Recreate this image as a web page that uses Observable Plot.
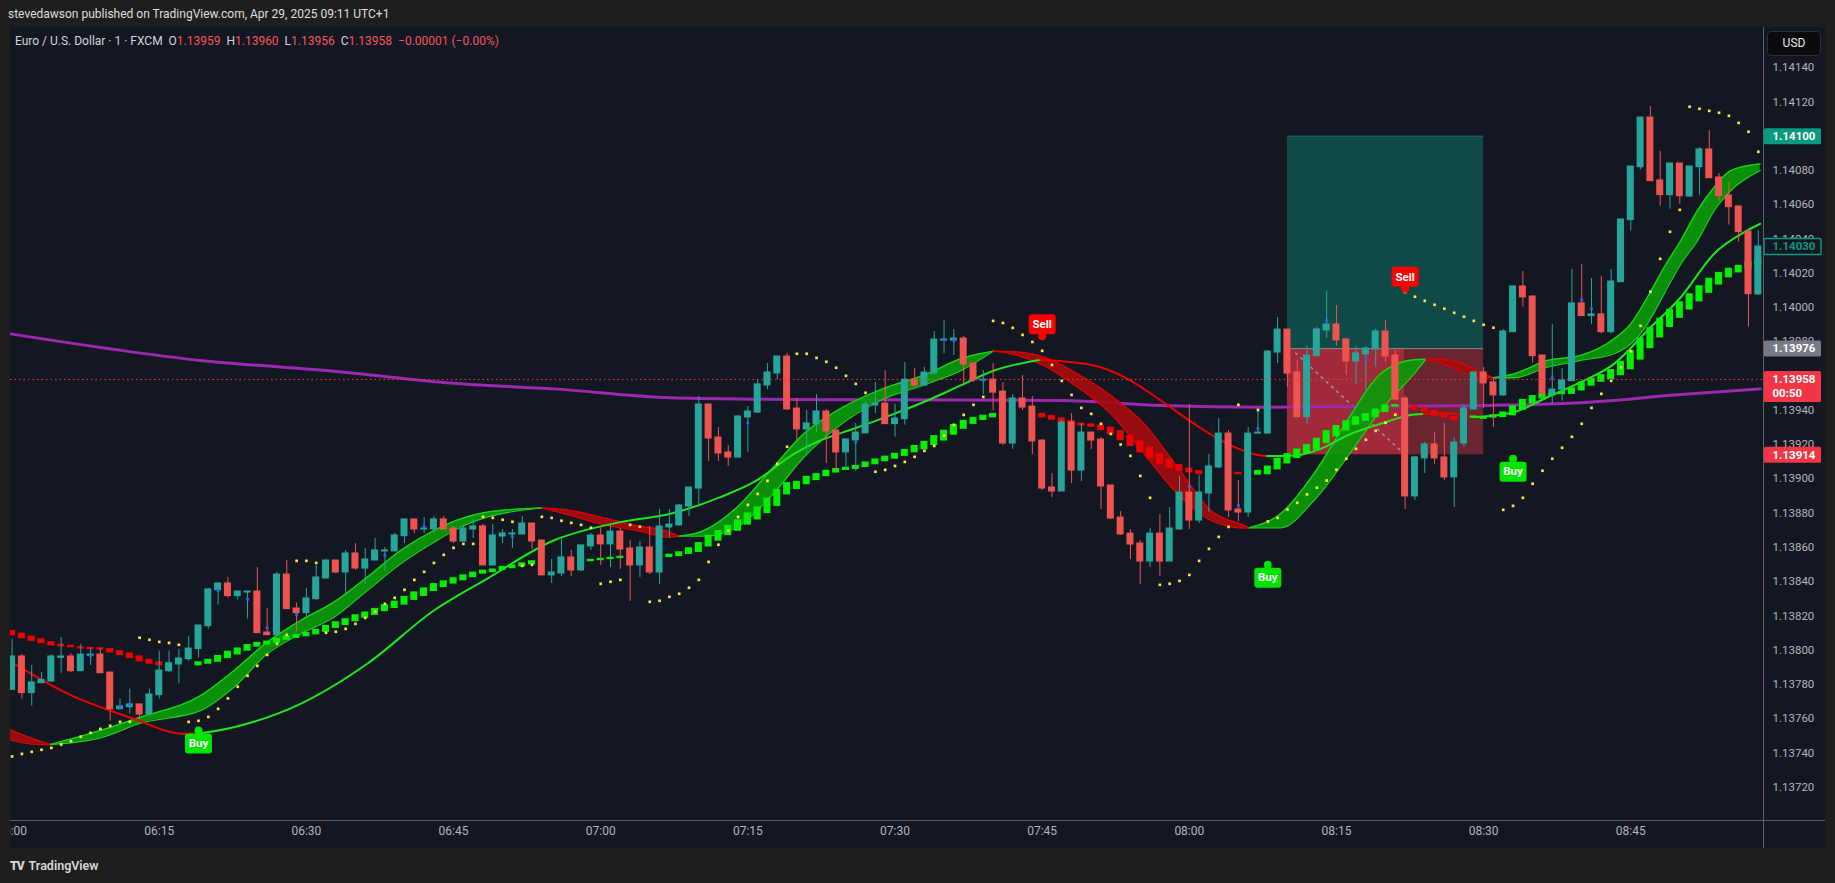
<!DOCTYPE html>
<html><head><meta charset="utf-8">
<script src="https://cdn.jsdelivr.net/npm/d3@7"></script>
<script src="https://cdn.jsdelivr.net/npm/@observablehq/plot@0.6"></script>
<style>
html,body{margin:0;padding:0;background:#1e1e1e;width:1835px;height:883px;overflow:hidden;font-family:Roboto,"Liberation Sans",sans-serif;}
#top{position:absolute;left:8px;top:7px;color:#dedede;font-size:12px;white-space:pre;}
#panel{position:absolute;left:10px;top:27px;width:1815px;height:821px;background:#131722;overflow:hidden;}
#panel svg{position:absolute;left:0;top:0;}
#legend{position:absolute;left:5px;top:7px;color:#d1d4dc;font-size:12px;white-space:pre;}
#legend .v{color:#f7525f}
#usd{position:absolute;left:1757px;top:4px;width:52px;height:23px;background:#0b0b0d;border:1px solid #2a2e39;border-radius:4px;color:#e6e6e6;font-size:12px;line-height:23px;text-align:center;}
#vsep{position:absolute;left:1753px;top:0;width:1px;height:821px;background:#5d606b;}
#hsep{position:absolute;left:0;top:793px;width:1815px;height:1px;background:#5d606b;}
#brand{position:absolute;left:10px;top:858px;color:#d8d8d8;font-size:12.5px;font-weight:600;}
#brand b{font-size:12px;letter-spacing:-1px;margin-right:5px;}
</style></head>
<body>
<div id="top">stevedawson published on TradingView.com, Apr 29, 2025 09:11 UTC+1</div>
<div id="panel">
  <div id="vsep"></div><div id="hsep"></div>
  <div id="legend">Euro / U.S. Dollar · 1 · FXCM  O<span class="v">1.13959</span>  H<span class="v">1.13960</span>  L<span class="v">1.13956</span>  C<span class="v">1.13958</span>  <span class="v">−0.00001 (−0.00%)</span></div>
  <div id="usd">USD</div>
</div>
<div id="brand"><b>TV</b>TradingView</div>
<script>
// ---- candle data (1-minute bars, index = minutes after 06:00) ----
const opens = [1.137768,1.137963,1.137749,1.137807,1.137817,1.137955,1.137963,1.137877,1.137967,1.137974,
1.137869,1.137655,1.137667,1.137683,1.137624,1.137737,1.137877,1.137916,1.137947,1.138006,
1.138140,1.138350,1.138389,1.138315,1.138336,1.138342,1.138103,1.138087,1.138441,1.138243,
1.138216,1.138297,1.138418,1.138523,1.138453,1.138564,1.138476,1.138523,1.138576,1.138576,
1.138665,1.138763,1.138704,1.138704,1.138763,1.138710,1.138634,1.138704,1.138722,1.138494,
1.138663,1.138675,1.138675,1.138739,1.138640,1.138436,1.138447,1.138541,1.138465,1.138605,
1.138669,1.138617,1.138692,1.138593,1.138494,1.138599,1.138453,1.138716,1.138728,1.138838,
1.138943,1.139434,1.139241,1.139154,1.139124,1.139358,1.139387,1.139545,1.139615,1.139714,
1.139410,1.139288,1.139317,1.139393,1.139282,1.139154,1.139224,1.139265,1.139428,1.139439,
1.139319,1.139348,1.139579,1.139544,1.139614,1.139807,1.139807,1.139819,1.139673,1.139574,
1.139579,1.139509,1.139206,1.139469,1.139422,1.139223,1.138949,1.138926,1.139328,1.139048,
1.139270,1.139229,1.138961,1.138774,1.138680,1.138622,1.138517,1.138680,1.138517,1.138704,
1.138920,1.138756,1.138914,1.139066,1.139264,1.138821,1.138803,1.139264,1.139264,1.139737,
1.139871,1.139621,1.139360,1.139716,1.139866,1.139901,1.139814,1.139685,1.139726,1.139755,
1.139860,1.139720,1.139469,1.138897,1.139119,1.139201,1.139125,1.139008,1.139206,1.139405,
1.139621,1.139563,1.139487,1.139856,1.140123,1.140064,1.139720,1.139496,1.139520,1.139570,
1.140024,1.139950,1.139960,1.139856,1.140148,1.140510,1.140819,1.141109,1.140742,1.140656,
1.140841,1.140648,1.140819,1.140923,1.140759,1.140654,1.140590,1.140444,1.140076];
const highs = [1.138060,1.137974,1.137910,1.137869,1.137974,1.138074,1.137978,1.138033,1.138013,1.138007,
1.137869,1.137714,1.137772,1.137683,1.137772,1.137994,1.137994,1.138005,1.138080,1.138144,
1.138360,1.138389,1.138424,1.138342,1.138342,1.138482,1.138243,1.138453,1.138523,1.138274,
1.138360,1.138494,1.138531,1.138523,1.138582,1.138622,1.138593,1.138652,1.138599,1.138681,
1.138763,1.138763,1.138774,1.138780,1.138780,1.138722,1.138728,1.138763,1.138733,1.138733,
1.138704,1.138704,1.138780,1.138739,1.138640,1.138529,1.138652,1.138582,1.138611,1.138681,
1.138722,1.138733,1.138710,1.138640,1.138634,1.138722,1.138821,1.138821,1.138850,1.138949,
1.139481,1.139434,1.139300,1.139194,1.139370,1.139422,1.139574,1.139673,1.139714,1.139732,
1.139469,1.139399,1.139492,1.139405,1.139282,1.139230,1.139323,1.139451,1.139562,1.139632,
1.139434,1.139679,1.139644,1.139650,1.139860,1.139924,1.139871,1.139831,1.139673,1.139632,
1.139673,1.139562,1.139492,1.139603,1.139480,1.139229,1.139031,1.139340,1.139381,1.139323,
1.139270,1.139241,1.138961,1.138809,1.138704,1.138640,1.138710,1.138791,1.138832,1.139013,
1.139434,1.139019,1.139142,1.139352,1.139282,1.138990,1.139299,1.139404,1.139749,1.139941,
1.139871,1.139691,1.139773,1.139884,1.140094,1.140012,1.139814,1.139773,1.139773,1.139872,
1.139924,1.139749,1.139481,1.139130,1.139212,1.139271,1.139323,1.139241,1.139434,1.139621,
1.139650,1.139592,1.139872,1.140123,1.140210,1.140070,1.139720,1.139901,1.139644,1.140222,
1.140251,1.140169,1.140181,1.140222,1.140514,1.140823,1.141109,1.141174,1.140911,1.140841,
1.140841,1.140823,1.140934,1.141033,1.140782,1.140730,1.140590,1.140444,1.140449];
const lows = [1.137764,1.137714,1.137673,1.137807,1.137811,1.137865,1.137869,1.137877,1.137910,1.137865,
1.137585,1.137655,1.137628,1.137593,1.137624,1.137714,1.137869,1.137803,1.137935,1.137955,
1.138122,1.138263,1.138303,1.138292,1.138181,1.138099,1.138087,1.138087,1.138239,1.138107,
1.138192,1.138292,1.138418,1.138445,1.138317,1.138465,1.138383,1.138523,1.138459,1.138576,
1.138622,1.138681,1.138681,1.138681,1.138704,1.138622,1.138634,1.138652,1.138494,1.138494,
1.138622,1.138593,1.138675,1.138587,1.138436,1.138389,1.138430,1.138430,1.138459,1.138582,
1.138494,1.138482,1.138471,1.138284,1.138424,1.138441,1.138383,1.138652,1.138722,1.138780,
1.138850,1.139101,1.139101,1.139072,1.139124,1.139154,1.139381,1.139521,1.139580,1.139399,
1.139224,1.139142,1.139270,1.139089,1.139049,1.139049,1.139043,1.139265,1.139381,1.139319,
1.139243,1.139313,1.139533,1.139544,1.139614,1.139731,1.139719,1.139544,1.139562,1.139492,
1.139398,1.139194,1.139171,1.139398,1.139142,1.138931,1.138891,1.138926,1.138972,1.138984,
1.139171,1.138821,1.138762,1.138669,1.138529,1.138383,1.138482,1.138430,1.138517,1.138704,
1.138704,1.138739,1.138803,1.139060,1.138774,1.138750,1.138774,1.139264,1.139264,1.139673,
1.139533,1.139360,1.139313,1.139716,1.139819,1.139773,1.139603,1.139551,1.139510,1.139650,
1.139679,1.139457,1.138821,1.138874,1.139031,1.139084,1.138990,1.138833,1.139183,1.139399,
1.139411,1.139300,1.139481,1.139856,1.140002,1.139675,1.139467,1.139438,1.139453,1.139570,
1.139950,1.139901,1.139846,1.139846,1.140148,1.140446,1.140804,1.140734,1.140592,1.140574,
1.140603,1.140644,1.140656,1.140755,1.140621,1.140481,1.140382,1.139885,1.140070];
const closes = [1.137963,1.137749,1.137811,1.137826,1.137963,1.137963,1.137877,1.137974,1.137974,1.137865,
1.137655,1.137671,1.137683,1.137624,1.137741,1.137881,1.137924,1.137951,1.138009,1.138144,
1.138354,1.138389,1.138315,1.138342,1.138342,1.138099,1.138087,1.138441,1.138239,1.138216,
1.138301,1.138424,1.138523,1.138453,1.138564,1.138476,1.138529,1.138582,1.138582,1.138669,
1.138763,1.138704,1.138710,1.138763,1.138704,1.138634,1.138710,1.138722,1.138494,1.138669,
1.138681,1.138681,1.138739,1.138634,1.138436,1.138453,1.138541,1.138465,1.138611,1.138669,
1.138617,1.138692,1.138587,1.138494,1.138599,1.138453,1.138722,1.138733,1.138844,1.138949,
1.139434,1.139235,1.139148,1.139124,1.139364,1.139393,1.139551,1.139621,1.139714,1.139405,
1.139288,1.139323,1.139393,1.139276,1.139154,1.139230,1.139270,1.139434,1.139440,1.139319,
1.139352,1.139579,1.139544,1.139620,1.139813,1.139813,1.139819,1.139667,1.139574,1.139579,
1.139503,1.139206,1.139469,1.139416,1.139218,1.138943,1.138926,1.139328,1.139048,1.139270,
1.139223,1.138955,1.138768,1.138675,1.138616,1.138517,1.138680,1.138517,1.138710,1.138920,
1.138756,1.138920,1.139072,1.139264,1.138815,1.138803,1.139264,1.139270,1.139743,1.139871,
1.139614,1.139360,1.139720,1.139872,1.139901,1.139808,1.139685,1.139732,1.139761,1.139860,
1.139714,1.139463,1.138897,1.139125,1.139201,1.139119,1.139008,1.139212,1.139411,1.139621,
1.139557,1.139487,1.139860,1.140123,1.140059,1.139716,1.139500,1.139521,1.139574,1.140024,
1.139950,1.139960,1.139856,1.140152,1.140514,1.140823,1.141109,1.140738,1.140656,1.140841,
1.140650,1.140823,1.140923,1.140755,1.140650,1.140586,1.140440,1.140078,1.140356];

// ---- parabolic SAR dots (one per bar, null = not drawn) ----
const sar = [1.137379,1.137394,1.137406,1.137418,1.137429,1.137449,1.137468,1.137494,1.137517,1.137540,
1.137558,1.137581,1.137581,1.138072,1.138060,1.138048,1.138042,1.138031,1.137581,1.137587,
1.137610,1.137657,1.137718,1.137786,1.137850,1.137908,1.137972,1.138037,1.138089,1.138521,
1.138521,1.138509,1.138101,1.138107,1.138124,1.138153,1.138188,1.138225,1.138270,1.138305,
1.138352,1.138410,1.138457,1.138509,1.138556,1.138597,1.138620,1.138620,1.138778,1.138772,
1.138761,1.138749,1.138492,1.138498,1.138778,1.138772,1.138755,1.138743,1.138731,1.138714,
1.138387,1.138399,1.138410,1.138731,1.138720,1.138282,1.138288,1.138311,1.138329,1.138364,
1.138410,1.138515,1.138615,1.138698,1.138778,1.138848,1.138912,1.138988,1.139087,1.139187,
1.139730,1.139730,1.139706,1.139683,1.139648,1.139601,1.139554,1.139502,1.139041,1.139052,
1.139075,1.139099,1.139128,1.139163,1.139192,1.139252,1.139315,1.139373,1.139432,1.139478,
1.139922,1.139910,1.139881,1.139840,1.139799,1.139747,1.139665,1.139572,1.139490,1.139414,
1.139379,1.139321,1.139262,1.139200,1.139134,1.139017,1.138889,1.138381,1.138387,1.138404,
1.138439,1.138521,1.138591,1.138661,1.138719,1.139432,null,1.139402,1.138751,1.138772,
1.138821,1.138860,1.138909,1.138948,1.138990,1.139053,1.139117,1.139175,1.139228,1.139280,
1.139327,1.139374,1.140090,1.140063,1.140039,1.140016,1.139993,1.139969,1.139946,1.139922,
1.139899,1.139882,1.138819,1.138842,1.138889,1.138971,1.139047,1.139117,1.139181,1.139245,
1.139321,1.139414,1.139496,1.139572,1.139652,1.139745,1.139893,1.140092,1.140284,1.140442,
1.140570,1.141172,1.141160,1.141148,1.141137,1.141119,1.141078,1.141026,1.140909];

// ---- trend squares (value and direction per bar; null = not drawn) ----
const sqValue = [1.138099,1.138083,1.138066,1.138052,1.138037,1.138027,1.138021,1.138013,1.138009,1.138007,
1.137996,1.137982,1.137967,1.137949,1.137932,1.137920,null,null,null,1.137920,
1.137932,1.137949,1.137972,1.137992,1.138013,1.138031,1.138041,1.138054,1.138070,1.138079,
1.138091,1.138105,1.138124,1.138146,1.138163,1.138186,1.138204,1.138223,1.138245,1.138264,
1.138288,1.138315,1.138338,1.138365,1.138385,1.138404,1.138422,1.138439,1.138455,1.138463,
1.138476,1.138486,1.138498,1.138510,null,null,null,null,null,1.138523,
1.138529,1.138535,1.138541,null,null,null,null,1.138550,1.138560,1.138578,
1.138599,1.138636,1.138667,1.138698,1.138727,1.138765,1.138798,1.138842,1.138889,1.138942,
1.138961,1.138990,1.139010,1.139031,1.139047,1.139058,1.139066,1.139082,1.139099,1.139116,
1.139132,1.139151,1.139173,1.139194,1.139223,1.139252,1.139286,1.139315,1.139338,1.139356,
1.139369,null,null,null,null,1.139369,1.139356,1.139342,1.139328,1.139317,
1.139311,1.139297,1.139280,1.139252,1.139221,1.139186,1.139151,1.139116,1.139087,1.139064,
1.139048,1.139036,null,null,null,1.139031,null,1.139035,1.139049,1.139086,
1.139117,1.139146,1.139173,1.139202,1.139243,1.139278,1.139309,1.139337,1.139358,1.139382,
1.139409,1.139426,1.139424,1.139413,1.139401,1.139383,1.139368,1.139352,1.139345,1.139360,
1.139354,1.139364,1.139374,1.139397,1.139432,1.139461,1.139481,1.139494,1.139500,1.139512,
1.139539,1.139564,1.139586,1.139609,1.139644,1.139693,1.139757,1.139821,1.139880,1.139936,
1.139985,1.140033,1.140080,1.140127,1.140168,1.140201,1.140224,1.140245,1.140265];
const sqDir = [-1,-1,-1,-1,-1,-1,-1,-1,-1,-1,
-1,-1,-1,-1,-1,-1,0,0,0,1,
1,1,1,1,1,1,1,1,1,1,
1,1,1,1,1,1,1,1,1,1,
1,1,1,1,1,1,1,1,1,1,
1,1,1,1,0,0,0,0,0,1,
1,1,1,0,0,0,0,1,1,1,
1,1,1,1,1,1,1,1,1,1,
1,1,1,1,1,1,1,1,1,1,
1,1,1,1,1,1,1,1,1,1,
1,0,0,0,0,-1,-1,-1,-1,-1,
-1,-1,-1,-1,-1,-1,-1,-1,-1,-1,
-1,-1,0,0,0,-1,0,1,1,1,
1,1,1,1,1,1,1,1,1,1,
1,1,-1,-1,-1,-1,-1,-1,-1,1,
1,1,1,1,1,1,1,1,1,1,
1,1,1,1,1,1,1,1,1,1,
1,1,1,1,1,1,1,1,1];

// ---- fast ribbon (two averages, sampled) ----
const ribbonM = [-0.16,1.88,3.92,9.01,13.09,19.2,22.6,26.0,29.4,32.8,36.2,39.6,43.0,45.7,48.4,54.0,
56.9,60.3,63.7,67.1,68.0,70.5,73.9,77.3,80.7,84.1,88.5,93.3,96.7,100.0,
101.8,105.2,108.6,112.0,115.4,118.8,122.2,125.6,126.1,129.3,132.7,136.1,139.5,142.9,144.1,
146.3,149.7,151.0,153.1,156.5,159.9,163.3,165.0,166.7,168.4,170.1,171.8,173.5,175.2,178.2];
const ribbonFast = [1.137476,1.137453,1.137449,1.137531,1.137609,1.137734,1.137880,1.138046,1.138173,1.138280,1.138426,1.138581,1.138698,1.138766,1.138805,1.138830,
1.138786,1.138733,1.138698,1.138659,1.138665,1.138698,1.138834,1.139048,1.139263,1.139399,1.139520,1.139613,1.139701,1.139745,
1.139730,1.139661,1.139535,1.139379,1.139146,1.138912,1.138757,1.138712,1.138714,1.138796,1.139029,1.139340,1.139613,1.139695,1.139698,
1.139661,1.139593,1.139590,1.139613,1.139691,1.139720,1.139817,1.139905,1.140060,1.140235,1.140391,1.140566,1.140702,1.140800,1.140839];
const ribbonSlow = [1.137535,1.137488,1.137449,1.137488,1.137573,1.137647,1.137783,1.137978,1.138095,1.138192,1.138348,1.138504,1.138630,1.138717,1.138776,1.138830,
1.138815,1.138772,1.138727,1.138688,1.138665,1.138665,1.138717,1.138893,1.139126,1.139301,1.139457,1.139555,1.139632,1.139745,
1.139743,1.139710,1.139613,1.139486,1.139321,1.139068,1.138815,1.138727,1.138714,1.138714,1.138873,1.139126,1.139399,1.139613,1.139698,
1.139695,1.139622,1.139590,1.139590,1.139652,1.139691,1.139730,1.139788,1.139905,1.140080,1.140255,1.140391,1.140566,1.140683,1.140800];

// ---- slow trend line (sampled) ----
const lineM = [0.14,5.6,12.4,17.5,18.9,22.6,29.4,36.2,43.0,48.4,55.2,62.0,67.1,72.2,75.6,79.7,82.4,85.8,89.9,93.3,96.7,100.1,104.8,
110.3,113.7,117.1,120.5,123.9,127.3,127.9,130.7,133.4,136.1,139.5,142.9,143.9,146.3,149.0,153.1,156.5,159.9,163.3,166.7,170.1,173.5,176.9,178.2];
const lineV = [1.137922,1.137747,1.137599,1.137511,1.137511,1.137550,1.137686,1.137920,1.138231,1.138416,1.138640,1.138747,1.138796,1.138893,1.138980,1.139146,1.139224,1.139292,1.139379,1.139457,1.139545,1.139632,1.139695,
1.139661,1.139584,1.139457,1.139321,1.139204,1.139136,1.139133,1.139136,1.139175,1.139253,1.139321,1.139375,1.139379,1.139383,1.139360,1.139389,1.139476,1.139564,1.139671,1.139866,1.140060,1.140314,1.140450,1.140489];
const lineTrend = ["down","down","down","down","down","up","up","up","up","up","up","up","up","up","up","up","up","up","up","up","up","up","up",
"down","down","down","down","down","down","down","up","up","up","up","up","up","down","down","up","up","up","up","up","up","up","up","up"];

// ---- long moving average (purple, sampled) ----
const maM = [-0.16,19.2,32.8,45.7,55.2,67.1,75.6,88.5,106.9,117.1,127.3,133.4,149.7,159.9,170.1,178.2];
const maV = [1.139846,1.139691,1.139628,1.139555,1.139525,1.139473,1.139465,1.139461,1.139457,1.139428,1.139418,1.139420,1.139428,1.139444,1.139492,1.139525];

// ---- small blue pivot marks ----
const blueM = [8,11,12,21,24,26,29,38,42,51,75,86,95,96,99,120,125,127,134,138,157,160,161];
const blueP = [1.137967,1.137671,1.137683,1.138348,1.138297,1.138130,1.138208,1.138554,1.138720,1.138663,1.139327,1.139214,1.139813,1.139807,1.139574,1.138955,1.138844,1.139293,1.139924,1.139697,1.139589,1.140045,1.139992];

// ---- Buy / Sell signals ----
const signalM = [19,105,128,142,153];
const signalP = [1.137531,1.139832,1.138498,1.140109,1.139117];
const signalType = ["Buy","Sell","Buy","Sell","Buy"];

// ---- long position drawing ----
const posStartM = 130, posHitM = 142, posEndM = 150;
const entryPrice = 1.13976, targetPrice = 1.14100, stopPrice = 1.13914;
const currentPrice = 1.13958;
const countdown = "00:50";

// ---- axes ----
const priceTicks = [1.13720,1.13740,1.13760,1.13780,1.13800,1.13820,1.13840,1.13860,1.13880,1.13900,1.13920,1.13940,1.13980,1.14000,1.14020,1.14040,1.14060,1.14080,1.14120,1.14140];
const timeTicks = [0,15,30,45,60,75,90,105,120,135,150,165];
const timeLabels = ["06:00","06:15","06:30","06:45","07:00","07:15","07:30","07:45","08:00","08:15","08:30","08:45"];
const tagPrices = [1.14100, 1.140356, 1.13976, 1.13914];
const tagTexts = ["1.14100","1.14030","1.13976","1.13914"];
const tagFill = ["#089981","#131722","#787b86","#f23645"];
const tagStroke = ["none","#089981","none","none"];
const tagColor = ["#ffffff","#089981","#ffffff","#ffffff"];

// ================= build =================
const UP = "#26a69a", DN = "#ef5350";
const candles = opens.map((o,i)=>({m:i,o,h:highs[i],l:lows[i],c:closes[i]}));
const cColor = d => d.c >= d.o ? UP : DN;

const sarRows = sar.map((v,i)=>({m:i,v})).filter(d=>d.v!=null);

const sqRows = [];
sqValue.forEach((v,i)=>{
  if (v==null) return;
  const p = sqValue[i-1], n = sqValue[i+1];
  let s;
  if (p!=null && n!=null) s = Math.abs(n-p)/2;
  else if (p!=null) s = Math.abs(v-p);
  else if (n!=null) s = Math.abs(n-v);
  else s = 0;
  const half = Math.max(s, 0.000007);
  sqRows.push({m:i, lo:v-half, hi:v+half, dir:sqDir[i]});
});

// ribbon segments by sign of fast - slow (crossing points shared)
const segs = []; let cur = null;
ribbonM.forEach((m,i)=>{
  const p = {m, f:ribbonFast[i], s:ribbonSlow[i]};
  const d = p.f - p.s, sign = d>0?1:d<0?-1:0;
  if (sign===0){ if(cur) cur.pts.push(p); cur={sign:0,pts:[p]}; segs.push(cur); }
  else {
    if(!cur){cur={sign,pts:[]};segs.push(cur);}
    if(cur.sign===0) cur.sign=sign;
    else if(cur.sign!==sign){const last=cur.pts[cur.pts.length-1]; cur={sign,pts:[last]}; segs.push(cur);}
    cur.pts.push(p);
  }
});
const ribRows = segs.filter(s=>s.pts.length>1).flatMap((s,k)=>s.pts.map(p=>({...p,seg:k,sign:s.sign})));

// trend line segments
const lsegs = []; let lc = null;
lineM.forEach((m,i)=>{
  const p = {m, v:lineV[i]}, t = lineTrend[i];
  if(!lc){lc={t,pts:[p]};lsegs.push(lc);return;}
  if(lc.t!==t){const last=lc.pts[lc.pts.length-1]; lc={t,pts:[last]}; lsegs.push(lc);}
  lc.pts.push(p);
});
const lineRows = lsegs.flatMap((s,k)=>s.pts.map(p=>({...p,seg:k,t:s.t})));

const maRows = maM.map((m,i)=>({m,v:maV[i]}));
const blueRows = blueM.map((m,i)=>({m,v:blueP[i]}));
const sigRows = signalM.map((m,i)=>({m,v:signalP[i],t:signalType[i]}));
const buyRows = sigRows.filter(d=>d.t==="Buy");
const sellRows = sigRows.filter(d=>d.t==="Sell");

function roundRect(w,h,oy,r){
  return {draw(ctx){
    const x0=-w/2, y0=-h/2+oy, x1=x0+w, y1=y0+h;
    if(!r){ctx.moveTo(x0,y0);ctx.lineTo(x1,y0);ctx.lineTo(x1,y1);ctx.lineTo(x0,y1);ctx.closePath();return;}
    ctx.moveTo(x0+r,y0);ctx.lineTo(x1-r,y0);ctx.arcTo(x1,y0,x1,y0+r,r);ctx.lineTo(x1,y1-r);ctx.arcTo(x1,y1,x1-r,y1,r);
    ctx.lineTo(x0+r,y1);ctx.arcTo(x0,y1,x0,y1-r,r);ctx.lineTo(x0,y0+r);ctx.arcTo(x0,y0,x0+r,y0,r);ctx.closePath();
  }};
}
const tagSym = roundRect(57,16,0,1.5);
const curTagSym = roundRect(57,31,7,1.5);
const buySym = roundRect(27,20,13,3);
const sellSym = roundRect(27,20,-12,3);

const tagRows = tagPrices.map((p,i)=>({p,t:tagTexts[i],fill:tagFill[i],stroke:tagStroke[i],color:tagColor[i]}));

const chart = Plot.plot({
  width: 1815, height: 821,
  marginLeft: 0, marginRight: 62, marginTop: 0, marginBottom: 28,
  x: {type:"linear", domain:[-0.163, 178.53], axis:null},
  y: {type:"linear", domain:[1.1370052, 1.1416347], axis:null},
  style: {background:"transparent", color:"#b2b5be", fontFamily:"Roboto, 'Liberation Sans', sans-serif", fontSize:"12px"},
  marks: [
    // position drawing
    Plot.rect([0], {x1:()=>posStartM, x2:()=>posEndM, y1:()=>entryPrice, y2:()=>targetPrice, fill:"#0f4a48"}),
    Plot.ruleY([targetPrice], {x1:posStartM, x2:posEndM, stroke:"#17685f", strokeWidth:1}),
    Plot.rect([0], {x1:()=>posStartM, x2:()=>posHitM, y1:()=>stopPrice, y2:()=>entryPrice, fill:"#a02a3a"}),
    Plot.rect([0], {x1:()=>posHitM, x2:()=>posEndM, y1:()=>stopPrice, y2:()=>entryPrice, fill:"#6b2530"}),
    Plot.ruleY([entryPrice], {x1:posStartM, x2:posEndM, stroke:"#8a8d96", strokeWidth:1}),
    Plot.link([0], {x1:()=>posStartM+0.8, y1:()=>entryPrice-0.000024, x2:()=>posHitM, y2:()=>stopPrice, stroke:"#9598a1", strokeDasharray:"3,4", strokeWidth:1.5}),
    // long MA
    Plot.line(maRows, {x:"m", y:"v", stroke:"#9c27b0", strokeWidth:3, curve:"monotone-x", clip:true}),
    // ribbon
    Plot.areaY(ribRows, {x:"m", y1:d=>Math.min(d.f,d.s), y2:d=>Math.max(d.f,d.s), z:"seg", fill:d=>d.sign>0?"#0a9a0a":"#a30c0e", fillOpacity:0.92, curve:"monotone-x", clip:true}),
    Plot.line(ribRows, {x:"m", y:"f", z:"seg", stroke:d=>d.sign>0?"#19d419":"#e00000", strokeWidth:1.3, curve:"monotone-x", clip:true}),
    Plot.line(ribRows, {x:"m", y:"s", z:"seg", stroke:d=>d.sign>0?"#19d419":"#e00000", strokeWidth:1.3, curve:"monotone-x", clip:true}),
    // trend line
    Plot.line(lineRows, {x:"m", y:"v", z:"seg", stroke:d=>d.t==="up"?"#1ee61e":"#ee0000", strokeWidth:2, curve:"monotone-x", clip:true}),
    // squares
    Plot.rect(sqRows, {x1:d=>d.m-0.36, x2:d=>d.m+0.36, y1:"lo", y2:"hi", fill:d=>d.dir>0?"#00f000":"#f00000", clip:true}),
    // candles
    Plot.ruleX(candles, {x:"m", y1:"l", y2:"h", stroke:cColor, strokeWidth:1, clip:true}),
    Plot.rect(candles, {x1:d=>d.m-0.357, x2:d=>d.m+0.357, y1:"o", y2:"c", fill:cColor, insetTop:-0.5, insetBottom:-0.5, clip:true}),
    // blue marks
    Plot.dot(blueRows, {x:"m", y:"v", symbol:"square", r:1.6, fill:"#2962ff"}),
    // SAR
    Plot.dot(sarRows, {x:"m", y:"v", symbol:"square", r:1.5, fill:"#ffe73b", clip:true}),
    // current price line
    Plot.ruleY([currentPrice], {stroke:"#f23645", strokeDasharray:"1.5,3", strokeWidth:1}),
    // signals
    Plot.dot(buyRows, {x:"m", y:"v", r:4, fill:"#00e600"}),
    Plot.dot(sellRows, {x:"m", y:"v", r:4, fill:"#ff0000"}),
    Plot.dot(buyRows, {x:"m", y:"v", symbol:buySym, fill:"#00e600"}),
    Plot.dot(sellRows, {x:"m", y:"v", symbol:sellSym, fill:"#ff0000"}),
    Plot.text(buyRows, {x:"m", y:"v", text:"t", dy:13, fill:"#ffffff", fontSize:11.5, fontWeight:"bold"}),
    Plot.text(sellRows, {x:"m", y:"v", text:"t", dy:-12, fill:"#ffffff", fontSize:11.5, fontWeight:"bold"}),
    // time axis
    Plot.text(timeTicks, {x:d=>d, text:(d,i)=>timeLabels[i], frameAnchor:"bottom", dy:14, fill:"#b2b5be", fontSize:12}),
    // price axis
    Plot.text(priceTicks, {y:d=>d, text:d=>d.toFixed(5), frameAnchor:"right", dx:9, textAnchor:"start", fill:"#b2b5be", fontSize:11.5}),
    Plot.dot(tagRows, {y:"p", frameAnchor:"right", dx:29, symbol:tagSym, fill:d=>d.fill, stroke:d=>d.stroke}),
    Plot.text(tagRows, {y:"p", text:"t", frameAnchor:"right", dx:9, textAnchor:"start", fill:d=>d.color, fontSize:11.5, fontWeight:"bold"}),
    Plot.dot([currentPrice], {y:d=>d, frameAnchor:"right", dx:29, symbol:curTagSym, fill:"#f23645"}),
    Plot.text([currentPrice], {y:d=>d, text:d=>d.toFixed(5), frameAnchor:"right", dx:9, textAnchor:"start", fill:"#ffffff", fontSize:11.5, fontWeight:"bold"}),
    Plot.text([currentPrice], {y:d=>d, text:()=>countdown, frameAnchor:"right", dx:9, dy:14, textAnchor:"start", fill:"#ffffff", fontSize:11.5, fontWeight:"bold"})
  ]
});
document.getElementById("panel").insertBefore(chart, document.getElementById("vsep"));
</script>
</body></html>
